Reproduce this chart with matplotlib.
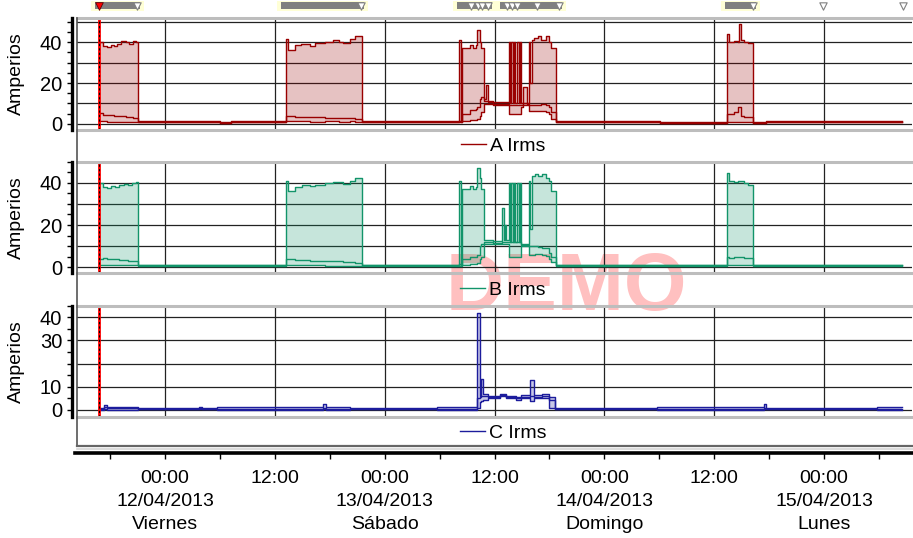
import matplotlib
matplotlib.use("Agg")
import matplotlib.pyplot as plt
import numpy as np
from matplotlib.lines import Line2D
from matplotlib.ticker import MultipleLocator, FuncFormatter

plt.rcParams['font.family'] = ['Liberation Sans', 'DejaVu Sans']

# time axis: hours from 12/04/2013 00:00
t_end = 80.5
x_lim = (-9.61, 81.6)
day_dates = ['12/04/2013', '13/04/2013', '14/04/2013', '15/04/2013']
day_names = ['Viernes', 'Sábado', 'Domingo', 'Lunes']

# A Irms: time, max, avg, min
a_t = [-7.20, -6.80, -6.30, -5.90, -5.60, -5.20, -4.80, -4.30, -3.90, -3.50, -3.20, -2.90,
       6.00, 7.20, 13.17, 13.45, 14.20, 14.90, 15.80, 16.40, 17.50, 18.40, 19.00, 19.50,
       20.20, 20.80, 21.57,
       32.10, 32.30, 32.47, 33.30, 33.70, 34.00, 34.10, 34.40, 34.55, 34.83, 35.10, 35.25,
       35.80, 37.60, 37.72, 37.85, 37.97, 38.15, 38.27, 38.50, 38.62, 38.80, 38.92, 39.16,
       39.52, 39.74, 39.90, 40.11, 40.30, 40.70, 41.10, 41.60, 42.00, 42.20, 42.73,
       54.10, 61.34, 61.63, 62.20, 62.54, 62.73, 62.90, 63.27, 63.70, 64.18, 65.60]
a_hi = [40.0, 38.0, 37.5, 38.5, 38.0, 39.0, 40.5, 40.0, 39.0, 40.5, 40.0, 1.3,
        0.8, 1.3, 41.5, 36.0, 38.5, 39.0, 38.0, 39.5, 40.0, 41.0, 40.0, 39.5,
        41.5, 43.0, 1.3,
        41.0, 1.3, 37.0, 38.5, 37.0, 38.5, 46.0, 40.0, 37.0, 12.0, 19.0, 11.0,
        10.5, 40.0, 10.0, 40.0, 10.0, 40.0, 10.0, 40.0, 10.0, 40.0, 10.0, 18.0,
        10.0, 40.0, 20.0, 41.0, 42.0, 43.0, 41.0, 43.0, 40.0, 37.0, 1.3,
        0.8, 44.0, 40.0, 40.5, 40.0, 49.0, 41.0, 40.0, 39.5, 0.8, 1.3]
a_avg = [5.5, 4.5, 4.5, 4.2, 4.0, 4.0, 3.8, 3.5, 3.5, 3.0, 3.0, 1.0,
         0.5, 1.0, 4.0, 3.8, 3.5, 3.5, 3.2, 3.2, 3.0, 3.0, 3.0, 2.8,
         2.8, 2.5, 1.0,
         1.5, 1.0, 5.0, 7.0, 7.0, 7.5, 8.0, 12.0, 13.0, 11.0, 11.0, 10.5,
         9.5, 9.0, 9.0, 9.0, 9.0, 9.0, 9.0, 9.0, 9.0, 9.0, 9.0, 10.0,
         9.5, 9.0, 9.0, 9.0, 9.0, 9.0, 9.5, 9.0, 8.0, 6.0, 1.0,
         0.5, 5.0, 5.0, 6.0, 8.0, 8.0, 4.0, 3.5, 3.5, 0.5, 1.0]
a_lo = [1.2, 1.2, 1.0, 1.0, 1.0, 1.0, 1.0, 1.0, 1.0, 1.0, 1.0, 0.7,
        0.2, 0.7, 1.2, 1.2, 1.2, 1.2, 1.0, 1.0, 1.5, 1.5, 1.0, 1.0,
        1.5, 1.0, 0.7,
        0.7, 0.7, 1.5, 2.0, 2.0, 2.0, 2.5, 4.0, 6.0, 9.5, 9.5, 9.5,
        9.0, 5.0, 5.0, 5.0, 5.0, 5.0, 5.0, 5.0, 5.0, 5.0, 8.0, 9.0,
        9.0, 6.5, 6.5, 6.5, 6.5, 6.5, 6.5, 6.0, 5.0, 2.5, 0.7,
        0.2, 1.0, 1.0, 1.0, 1.0, 1.0, 1.0, 1.0, 1.0, 0.2, 0.7]

# B Irms: time, max, avg, min
b_t = [-7.20, -6.80, -6.30, -5.90, -5.50, -5.00, -4.50, -4.00, -3.60, -3.20, -2.90,
       13.17, 13.45, 14.20, 15.00, 15.80, 16.40, 17.50, 18.40, 19.50, 20.20, 20.80, 21.57,
       32.10, 32.30, 32.47, 33.30, 33.70, 34.00, 34.10, 34.40, 34.55, 34.83, 35.80,
       36.80, 37.00, 37.10, 37.30, 37.60, 37.72, 37.85, 37.97, 38.15, 38.27, 38.50,
       38.62, 38.80, 38.92, 39.74, 39.90, 40.11, 40.40, 40.80, 41.20, 41.60, 42.00,
       42.20, 42.73, 61.34, 61.63, 62.20, 62.60, 63.30, 63.70, 64.18]
b_hi = [40.0, 38.0, 37.5, 38.5, 38.0, 39.0, 39.5, 39.0, 40.0, 40.5, 1.2,
        41.0, 36.0, 38.0, 39.0, 38.5, 39.0, 40.0, 40.5, 39.5, 41.0, 42.0, 1.2,
        41.0, 1.2, 37.0, 38.5, 37.0, 38.0, 47.0, 42.0, 37.0, 13.0, 12.5,
        28.0, 13.0, 20.0, 13.0, 40.0, 12.0, 40.0, 12.0, 40.0, 12.0, 40.0,
        12.0, 40.0, 11.0, 41.0, 18.0, 43.0, 44.0, 43.0, 44.0, 42.0, 41.0,
        36.0, 1.2, 44.5, 41.0, 40.5, 41.0, 40.0, 39.0, 1.2]
b_avg = [4.0, 4.2, 4.0, 4.0, 3.8, 3.5, 3.5, 3.2, 3.0, 3.0, 0.9,
         4.0, 3.8, 3.5, 3.5, 3.2, 3.0, 3.0, 2.8, 2.5, 2.5, 2.2, 0.9,
         1.5, 0.9, 4.0, 5.0, 5.0, 5.0, 6.0, 10.0, 11.0, 12.0, 11.5,
         12.0, 12.0, 12.0, 12.0, 12.0, 12.0, 12.0, 12.0, 12.0, 12.0, 12.0,
         12.0, 12.0, 10.5, 10.0, 10.0, 10.0, 10.0, 9.5, 9.0, 9.0, 7.0,
         5.0, 0.9, 5.0, 4.5, 5.0, 5.0, 4.5, 4.5, 0.9]
b_lo = [1.0, 1.0, 1.0, 1.0, 1.0, 1.0, 1.0, 1.0, 1.0, 1.0, 0.6,
        1.0, 1.0, 1.0, 1.0, 1.0, 1.0, 0.8, 0.5, 0.5, 0.5, 0.5, 0.6,
        0.6, 0.6, 1.0, 1.5, 1.5, 1.5, 2.0, 4.0, 5.0, 11.0, 11.0,
        11.0, 11.0, 11.0, 11.0, 5.0, 5.0, 5.0, 5.0, 5.0, 5.0, 5.0,
        5.0, 5.0, 10.0, 6.0, 6.0, 6.0, 6.5, 6.5, 6.0, 5.5, 4.0,
        2.5, 0.6, 1.0, 1.0, 1.0, 1.0, 1.0, 1.0, 0.6]

# C Irms: time, max, avg, min
c_t = [-7.20, -6.70, -6.30, -2.90, 3.70, 4.00, 5.70, 17.30, 17.60, 20.20, 29.70,
       34.11, 34.36, 34.55, 34.73, 35.27, 36.55, 37.27, 38.36, 38.91, 39.82, 40.36,
       41.20, 42.00, 42.55, 53.70, 65.40, 65.70, 77.75]
c_hi = [1.0, 2.2, 1.2, 0.8, 1.5, 0.8, 1.1, 2.5, 1.1, 0.8, 1.1,
        42.0, 6.0, 13.5, 7.0, 6.0, 7.0, 6.0, 5.5, 6.5, 13.0, 6.5,
        7.0, 5.5, 0.8, 1.1, 2.5, 0.8, 1.1]
c_avg = [0.5, 1.2, 0.7, 0.6, 0.8, 0.6, 0.6, 1.0, 0.6, 0.6, 0.6,
         5.0, 5.5, 6.0, 6.0, 5.5, 6.5, 5.5, 5.0, 5.5, 6.0, 5.5,
         6.0, 4.5, 0.6, 0.6, 1.0, 0.6, 0.6]
c_lo = [0.2, 0.5, 0.2, 0.5, 0.5, 0.5, 0.1, 0.3, 0.1, 0.5, 0.1,
        1.0, 3.5, 4.0, 4.5, 5.0, 6.0, 5.0, 4.5, 5.0, 4.0, 5.0,
        5.0, 1.0, 0.5, 0.1, 0.3, 0.5, 0.1]

# event strip
ev_start = [-7.65, 12.67, 31.9, 36.6, 61.18]
ev_end = [-2.73, 21.74, 35.73, 43.37, 64.57]
ev_marks = [-3.1, 21.4, 33.4, 34.2, 34.6, 35.3, 37.4, 37.9, 38.4, 40.6, 43.0, 64.2, 71.9, 80.6]
ev_first = -7.2

series = [
    ("A Irms", a_t, a_hi, a_avg, a_lo, "#990000", (-2.8, 51.9), [0, 20, 40]),
    ("B Irms", b_t, b_hi, b_avg, b_lo, "#12946a", (-2.8, 50.0), [0, 20, 40]),
    ("C Irms", c_t, c_hi, c_avg, c_lo, "#1c1c9c", (-2.9, 45.0), [0, 10, 30, 40]),
]
# panel top / bottom in pixels
panel_px = [(18, 129.5), (161.5, 273.3), (305.7, 416.7)]

W, H = 913, 538
fig = plt.figure(figsize=(W / 100, H / 100), dpi=100)
x0, x1 = 77 / W, 912 / W

fig.text(566 / W, 1 - 289 / H, "DEMO", fontsize=58, fontweight="bold",
         color="#ffc0c0", ha="center", va="center", zorder=-1)


def steps(t, v):
    return np.append(t, t_end), np.append(v, v[-1])


for (name, t, hi, avg, lo, col, ylim, ylab), (top, bot) in zip(series, panel_px):
    ax = fig.add_axes([x0, 1 - bot / H, x1 - x0, (bot - top) / H])
    ax.patch.set_visible(False)
    tt, hh = steps(t, hi)
    _, aa = steps(t, avg)
    _, ll = steps(t, lo)
    ax.fill_between(tt, ll, hh, step="post", color=col, alpha=0.24, lw=0)
    for v in (hh, aa, ll):
        ax.plot(tt, v, drawstyle="steps-post", color=col, lw=1.0)
    ax.axvline(ev_first, color="red", lw=2)
    ax.axvline(ev_first, color="black", lw=0.8, ls=(0, (2, 2)))

    ax.set_xlim(*x_lim)
    ax.set_ylim(*ylim)
    ax.xaxis.set_major_locator(MultipleLocator(12))
    ax.tick_params(axis="x", length=0, labelbottom=False)
    ax.yaxis.set_major_locator(MultipleLocator(10))
    ax.yaxis.set_minor_locator(MultipleLocator(5))
    ax.yaxis.set_major_formatter(FuncFormatter(
        lambda v, p, ylab=ylab: f"{v:.0f}" if round(v) in ylab else ""))
    ax.tick_params(axis="y", which="both", direction="out", length=3.6, width=1,
                   labelsize=14.5, pad=3.5)
    ax.grid(True, color="#222222", lw=0.9)
    ax.set_axisbelow(True)
    for s in ("top", "bottom"):
        ax.spines[s].set_color("#bdbdbd")
        ax.spines[s].set_linewidth(2.2)
    ax.spines["right"].set_visible(False)
    ax.spines["left"].set_position(("outward", 3.6))
    ax.spines["left"].set_linewidth(2.4)
    ax.set_ylabel("Amperios", fontsize=14, va="center")
    ax.yaxis.set_label_coords(-0.072, 0.5)
    ax.legend(handles=[Line2D([], [], color=col, lw=1)], labels=[name],
              loc="center", bbox_to_anchor=(0.51, -16.5 / (bot - top)),
              frameon=False, fontsize=14, handlelength=1.3, handletextpad=0.2)

# frame lines around the stacked panels
fig.add_artist(Line2D([x0, x0], [1 - 18 / H, 1 - 446 / H], color="#555555", lw=1.2))
fig.add_artist(Line2D([x0, 1], [1 - 446 / H] * 2, color="#666666", lw=1.6))
fig.add_artist(Line2D([x0, 1], [1 - 449 / H] * 2, color="#d4d4d4", lw=1.2))

# event strip on top
ax_ev = fig.add_axes([x0, 1 - 11 / H, x1 - x0, 10 / H])
ax_ev.broken_barh([(s - 0.4, e - s + 0.8) for s, e in zip(ev_start, ev_end)], (0, 1),
                  facecolors="#ffffd6")
ax_ev.broken_barh([(s, e - s) for s, e in zip(ev_start, ev_end)], (0.2, 0.7),
                  facecolors="#808080")
ax_ev.scatter(ev_marks, [0.55] * len(ev_marks), marker="v", s=28, color="white",
              edgecolors="#808080", linewidths=0.8, zorder=3)
ax_ev.scatter([ev_first], [0.55], marker="v", s=30, color="red",
              edgecolors="#600000", linewidths=0.6, zorder=3)
ax_ev.set_xlim(*x_lim)
ax_ev.set_ylim(0, 1)
ax_ev.axis("off")

# time axis at the bottom
ax_t = fig.add_axes([x0 - 2 / W, 1 - 453 / H, x1 - x0 + 2 / W, 0.0001])
ax_t.set_xlim(x_lim[0] - 2 / 9.153, x_lim[1])
for s in ("top", "left", "right"):
    ax_t.spines[s].set_visible(False)
ax_t.spines["bottom"].set_linewidth(2.6)
ax_t.set_yticks([])
major = list(range(0, 73, 12))
labels = []
for h in major:
    if h % 24 == 0:
        labels.append(f"00:00\n{day_dates[h // 24]}\n{day_names[h // 24]}")
    else:
        labels.append("12:00")
ax_t.set_xticks(major, labels)
ax_t.xaxis.set_minor_locator(MultipleLocator(6))
ax_t.tick_params(axis="x", which="both", direction="out", length=4.5, width=1,
                 labelsize=14, pad=8)
for lab in ax_t.get_xticklabels():
    lab.set_linespacing(1.45)

fig.savefig("out.png", dpi=100)
plt.close(fig)
